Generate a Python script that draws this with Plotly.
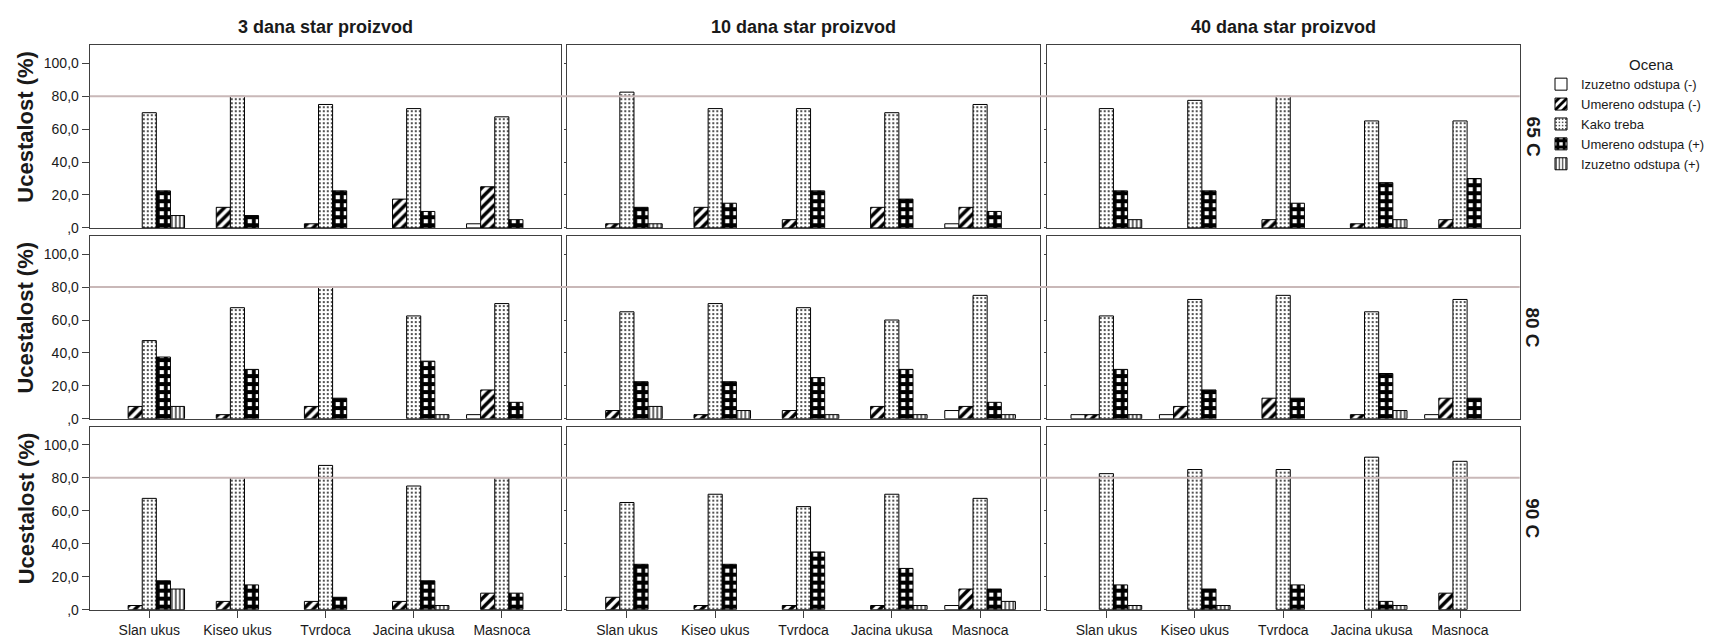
import plotly.graph_objects as go

# ---------------- data ----------------
categories = ["Slan ukus", "Kiseo ukus", "Tvrdoca", "Jacina ukusa", "Masnoca"]
series_names = ["Izuzetno odstupa (-)", "Umereno odstupa (-)", "Kako treba",
                "Umereno odstupa (+)", "Izuzetno odstupa (+)"]
age_titles = ["3 dana star proizvod", "10 dana star proizvod", "40 dana star proizvod"]
temp_labels = ["65 C", "80 C", "90 C"]
y_tickvals = [0, 20, 40, 60, 80, 100]
y_ticktext = [",0", "20,0", "40,0", "60,0", "80,0", "100,0"]
reference_value = 80
y_title = "Ucestalost (%)"
legend_title = "Ocena"

# one list per series (series_names order), values per category (categories order)
d3_65 = [[0, 0, 0, 0, 2.5],
         [0, 12.5, 2.5, 17.5, 25],
         [70, 80, 75, 72.5, 67.5],
         [22.5, 7.5, 22.5, 10, 5],
         [7.5, 0, 0, 0, 0]]
d10_65 = [[0, 0, 0, 0, 2.5],
          [2.5, 12.5, 5, 12.5, 12.5],
          [82.5, 72.5, 72.5, 70, 75],
          [12.5, 15, 22.5, 17.5, 10],
          [2.5, 0, 0, 0, 0]]
d40_65 = [[0, 0, 0, 0, 0],
          [0, 0, 5, 2.5, 5],
          [72.5, 77.5, 80, 65, 65],
          [22.5, 22.5, 15, 27.5, 30],
          [5, 0, 0, 5, 0]]
d3_80 = [[0, 0, 0, 0, 2.5],
         [7.5, 2.5, 7.5, 0, 17.5],
         [47.5, 67.5, 80, 62.5, 70],
         [37.5, 30, 12.5, 35, 10],
         [7.5, 0, 0, 2.5, 0]]
d10_80 = [[0, 0, 0, 0, 5],
          [5, 2.5, 5, 7.5, 7.5],
          [65, 70, 67.5, 60, 75],
          [22.5, 22.5, 25, 30, 10],
          [7.5, 5, 2.5, 2.5, 2.5]]
d40_80 = [[2.5, 2.5, 0, 0, 2.5],
          [2.5, 7.5, 12.5, 2.5, 12.5],
          [62.5, 72.5, 75, 65, 72.5],
          [30, 17.5, 12.5, 27.5, 12.5],
          [2.5, 0, 0, 5, 0]]
d3_90 = [[0, 0, 0, 0, 0],
         [2.5, 5, 5, 5, 10],
         [67.5, 80, 87.5, 75, 80],
         [17.5, 15, 7.5, 17.5, 10],
         [12.5, 0, 0, 2.5, 0]]
d10_90 = [[0, 0, 0, 0, 2.5],
          [7.5, 2.5, 2.5, 2.5, 12.5],
          [65, 70, 62.5, 70, 67.5],
          [27.5, 27.5, 35, 25, 12.5],
          [0, 0, 0, 2.5, 5]]
d40_90 = [[0, 0, 0, 0, 0],
          [0, 0, 0, 0, 10],
          [82.5, 85, 85, 92.5, 90],
          [15, 12.5, 15, 5, 0],
          [2.5, 2.5, 0, 2.5, 0]]

panels = [[d3_65, d10_65, d40_65],
          [d3_80, d10_80, d40_80],
          [d3_90, d10_90, d40_90]]

# ---------------- styles / geometry ----------------
W, H = 1712, 636
FONT = "Liberation Sans, Arial, Helvetica, sans-serif"
col_px = [(81.8, 553.3), (559.3, 1031.7), (1038.7, 1511.7)]
row_px = [(37.7, 222.7), (231.0, 416.0), (424.0, 609.3)]
frame_color = "#404040"
ref_color = "#c9b8b8"

series_patterns = [
    dict(shape="", size=8, solidity=0.3),
    dict(shape="/", size=7, solidity=0.5),
    dict(shape=".", size=4, solidity=0.16),
    dict(shape="+", size=8, solidity=0.72),
    dict(shape="|", size=4, solidity=0.3),
]

# for each series, the legend entry comes from the first panel whose first bar is drawn
# (so that the legend swatch gets its outline)
flat = [panels[r][c] for r in range(3) for c in range(3)]
legend_panel = []
for s in range(len(series_names)):
    pick = 0
    for k, pd_ in enumerate(flat):
        if pd_[s][0] > 0:
            pick = k
            break
    legend_panel.append(pick)

fig = go.Figure()
layout = {}
annotations = []
shapes = []

for r in range(3):
    for c in range(3):
        idx = r * 3 + c + 1
        sfx = "" if idx == 1 else str(idx)
        xa, ya = "x" + sfx, "y" + sfx
        for s, name in enumerate(series_names):
            p = series_patterns[s]
            vals = panels[r][c][s]
            fig.add_trace(go.Bar(
                x=categories, y=vals, name=name,
                showlegend=(legend_panel[s] == idx - 1), legendrank=s + 1,
                xaxis=xa, yaxis=ya,
                marker=dict(color="white",
                            line=dict(color="black",
                                      width=[1 if v > 0 else 0 for v in vals]),
                            pattern=dict(shape=p["shape"], fgcolor="black",
                                         bgcolor="white", size=p["size"],
                                         solidity=p["solidity"],
                                         fillmode="replace")),
                hovertemplate="%{x}: %{y}<extra>" + name + "</extra>",
            ))
        x0, x1 = col_px[c]
        y0, y1 = row_px[r]
        layout["xaxis" + sfx] = dict(
            domain=[x0 / W, x1 / W], anchor=ya, range=[-0.675, 4.675],
            showline=True, mirror=True, linecolor=frame_color, linewidth=1.3,
            showgrid=False, zeroline=False,
            ticks="outside" if r == 2 else "", ticklen=7, tickcolor=frame_color,
            showticklabels=(r == 2),
            tickfont=dict(family=FONT, size=14, color="#1a1a1a"),
            fixedrange=True)
        layout["yaxis" + sfx] = dict(
            domain=[1 - y1 / H, 1 - y0 / H], anchor=xa, range=[0, 111],
            tickvals=y_tickvals, ticktext=y_ticktext,
            showline=True, mirror=True, linecolor=frame_color, linewidth=1.3,
            showgrid=False, zeroline=False,
            ticks="outside", ticklen=7 if c == 0 else 2, tickcolor=frame_color,
            showticklabels=(c == 0),
            tickfont=dict(family=FONT, size=14, color="#1a1a1a"),
            fixedrange=True)
    # reference line across the row
    shapes.append(dict(type="line", xref="paper", yref="y" + ("" if r == 0 else str(r * 3 + 1)),
                       x0=col_px[0][0] / W, x1=col_px[2][1] / W,
                       y0=reference_value, y1=reference_value,
                       line=dict(color=ref_color, width=2), layer="above"))
    # y-axis title per row
    yc = (row_px[r][0] + row_px[r][1]) / 2
    annotations.append(dict(text="<b>" + y_title + "</b>", xref="paper", yref="paper",
                            x=18 / W, y=1 - (yc - 10) / H, textangle=-90,
                            showarrow=False, xanchor="center", yanchor="middle",
                            font=dict(family=FONT, size=22, color="#1a1a1a")))
    # row (temperature) label
    annotations.append(dict(text="<b>" + temp_labels[r] + "</b>", xref="paper", yref="paper",
                            x=1525 / W, y=1 - yc / H, textangle=90,
                            showarrow=False, xanchor="center", yanchor="middle",
                            font=dict(family=FONT, size=19, color="#1a1a1a")))

for c in range(3):
    xc = (col_px[c][0] + col_px[c][1]) / 2
    annotations.append(dict(text="<b>" + age_titles[c] + "</b>", xref="paper", yref="paper",
                            x=xc / W, y=1 - 19 / H, showarrow=False,
                            xanchor="center", yanchor="middle",
                            font=dict(family=FONT, size=18, color="#1a1a1a")))

# legend title
annotations.append(dict(text=legend_title, xref="paper", yref="paper",
                        x=1643 / W, y=1 - 57 / H, showarrow=False,
                        xanchor="center", yanchor="middle",
                        font=dict(family=FONT, size=15, color="#1a1a1a")))

fig.update_layout(
    width=W, height=H, autosize=False,
    margin=dict(l=0, r=0, t=0, b=0),
    paper_bgcolor="white", plot_bgcolor="white",
    barmode="group", bargap=0.2, bargroupgap=0,
    font=dict(family=FONT, color="#1a1a1a"),
    legend=dict(x=1533 / W, y=1 - 62 / H, xanchor="left", yanchor="top",
                font=dict(family=FONT, size=13),
                bgcolor="rgba(0,0,0,0)", tracegroupgap=0, traceorder="normal"),
    annotations=annotations, shapes=shapes,
    **layout,
)

fig.write_html("out.html")
